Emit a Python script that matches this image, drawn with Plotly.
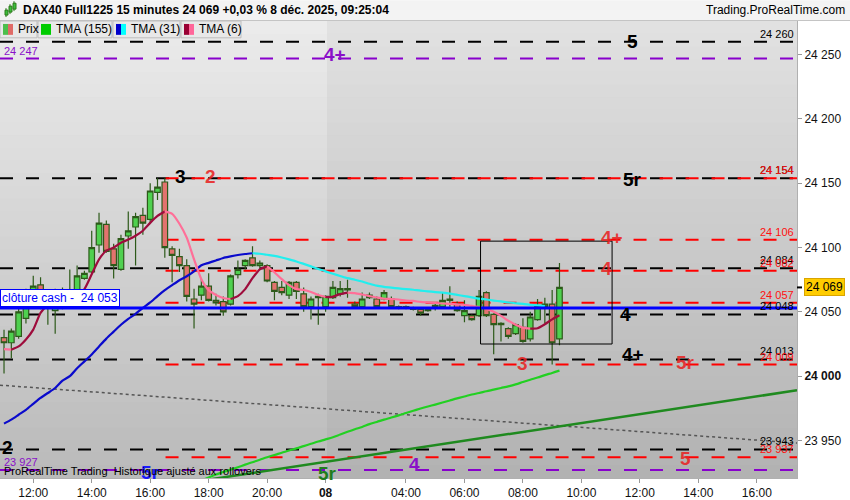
import plotly.graph_objects as go

# ---------------- data ----------------
# 15-minute bars, index 0 = 7 déc 11:00 ... index 76 = 8 déc 09:15
bar_open = [24030, 24026, 24031, 24045, 24056, 24071, 24062, 24051, 24054, 24064,
            24067, 24076, 24081, 24102, 24118, 24099, 24083, 24109, 24116, 24125,
            24122, 24143, 24151, 24099, 24093, 24086, 24060, 24063, 24070, 24059,
            24058, 24056, 24079, 24086, 24092, 24086, 24086, 24073, 24069, 24063,
            24073, 24064, 24054, 24061, 24054, 24061, 24064, 24067, 24056, 24054,
            24061, 24060, 24060, 24060, 24053, 24054, 24053, 24052, 24051, 24053,
            24054, 24060, 24056, 24047, 24047, 24047, 24065, 24048, 24040, 24037,
            24033, 24038, 24029, 24044, 24054, 24056, 24029]
bar_high = [24036, 24037, 24055, 24068, 24078, 24077, 24065, 24068, 24069, 24083,
            24086, 24082, 24113, 24127, 24121, 24103, 24110, 24128, 24127, 24131,
            24150, 24154, 24154, 24101, 24099, 24091, 24068, 24076, 24080, 24064,
            24062, 24079, 24090, 24091, 24101, 24090, 24087, 24074, 24074, 24074,
            24074, 24069, 24062, 24064, 24063, 24074, 24074, 24075, 24058, 24065,
            24065, 24062, 24067, 24062, 24055, 24055, 24054, 24053, 24053, 24057,
            24065, 24070, 24058, 24059, 24048, 24067, 24066, 24049, 24042, 24038,
            24041, 24045, 24050, 24060, 24061, 24067, 24088]
bar_low = [24002, 24014, 24029, 24041, 24053, 24052, 24040, 24033, 24052, 24060,
           24065, 24075, 24080, 24096, 24096, 24076, 24082, 24099, 24086, 24110,
           24119, 24137, 24092, 24073, 24081, 24058, 24037, 24059, 24058, 24055,
           24047, 24055, 24076, 24083, 24085, 24083, 24073, 24059, 24063, 24060,
           24060, 24050, 24044, 24040, 24050, 24060, 24062, 24061, 24053, 24053,
           24060, 24053, 24059, 24053, 24052, 24052, 24051, 24047, 24050, 24051,
           24053, 24054, 24050, 24042, 24043, 24046, 24046, 24017, 24027, 24029,
           24032, 24026, 24027, 24043, 24041, 24009, 24024]
bar_close = [24026, 24035, 24050, 24054, 24070, 24060, 24054, 24054, 24062, 24067,
             24078, 24080, 24100, 24119, 24097, 24086, 24107, 24113, 24124, 24119,
             24144, 24147, 24100, 24094, 24086, 24062, 24056, 24070, 24059, 24057,
             24050, 24078, 24083, 24090, 24086, 24088, 24074, 24066, 24065, 24073,
             24066, 24054, 24060, 24062, 24062, 24069, 24068, 24068, 24054, 24060,
             24063, 24054, 24065, 24054, 24054, 24053, 24052, 24049, 24052, 24055,
             24059, 24059, 24051, 24051, 24044, 24062, 24047, 24040, 24041, 24031,
             24040, 24027, 24046, 24055, 24056, 24026, 24069]

# moving averages
tma6 = [24021.0, 24020.6, 24023.1, 24028.5, 24036.2, 24049.2, 24055.4, 24058.5, 24060.0, 24060.6,
        24062.3, 24067.7, 24079.2, 24090.8, 24097.7, 24100.0, 24103.8, 24106.2, 24109.2, 24113.1,
        24119.2, 24124.6, 24128.1, 24126.2, 24118.5, 24107.7, 24090.8, 24075.4, 24066.9, 24063.1,
        24060.8, 24060.0, 24062.3, 24067.7, 24076.2, 24083.1, 24085.4, 24080.8, 24075.4, 24070.8,
        24067.7, 24067.0, 24065.4, 24063.1, 24061.5, 24061.9, 24063.8, 24065.0, 24064.6, 24063.5,
        24062.3, 24061.2, 24060.2, 24060.0, 24059.6, 24058.8, 24058.5, 24057.7, 24057.3, 24056.9,
        24056.5, 24056.2, 24055.8, 24055.4, 24054.6, 24053.8, 24052.3, 24050.0, 24046.9, 24043.1,
        24040.0, 24037.7, 24036.9, 24037.3, 24040.4, 24044.2, 24047.3]
tma31 = [23963.1, 23966.2, 23970.0, 23973.8, 23978.5, 23983.1, 23986.9, 23990.8, 23996.5, 24000.0,
         24006.2, 24011.5, 24016.9, 24023.1, 24029.2, 24034.6, 24040.0, 24044.6, 24048.5, 24053.1,
         24057.3, 24062.3, 24066.9, 24070.8, 24074.6, 24077.7, 24081.5, 24086.2, 24088.1, 24090.0,
         24091.9, 24093.1, 24094.2, 24095.0, 24095.6, 24095.2, 24094.4, 24093.6, 24092.3, 24090.8,
         24089.2, 24087.3, 24085.4, 24083.3, 24081.5, 24079.6, 24077.9, 24076.2, 24075.0, 24073.6,
         24071.9, 24070.4, 24069.5, 24068.8, 24068.2, 24067.7, 24067.2, 24066.5, 24066.0, 24065.4,
         24064.9, 24064.2, 24063.2, 24062.3, 24061.3, 24060.3, 24059.6, 24058.8, 24058.1, 24057.3,
         24056.7, 24056.2, 24055.5, 24055.0, 24054.5]
tma155_first = 26
tma155 = [23916.5, 23918.9,
          23921.2, 23923.5, 23925.4, 23927.3, 23929.2, 23931.2, 23933.1, 23935.0, 23936.9, 23938.7,
          23940.4, 23942.2, 23943.8, 23945.6, 23947.4, 23949.2, 23950.8, 23952.5, 23954.6, 23956.7,
          23958.7, 23960.5, 23962.7, 23964.4, 23966.2, 23967.8, 23969.5, 23971.3, 23973.1, 23974.8,
          23976.4, 23977.9, 23979.5, 23981.1, 23982.7, 23984.2, 23985.7, 23986.9, 23988.3, 23989.5,
          23990.8, 23992.1, 23993.6, 23995.4, 23997.2, 23998.9, 24000.8, 24002.5, 24004.3]

# time axis
tick_idx = [4, 12, 20, 28, 36, 44, 55, 63, 71, 79, 87, 95, 103]
tick_text = ["12:00", "14:00", "16:00", "18:00", "20:00", "<b>08</b>", "04:00",
             "06:00", "08:00", "10:00", "12:00", "14:00", "16:00"]
x_range = [-0.55, 108.5]
y_range = [23920.8, 24276.2]
y_ticks = [23950, 24000, 24050, 24100, 24150, 24200, 24250]

# horizontal levels
black_levels = [24260, 24154, 24084, 24048, 24013, 23943]
red_levels = [24154, 24106, 24082, 24057, 24009, 23937]
red_levels_from = 22.1
purple_levels = [24247, 23927]
cash_close = 24053
last_price = 24069

# drawn objects
dotted_trend_idx = [-0.55, 108.5]
dotted_trend_val = [23993, 23948]
green_trend_idx = [28.5, 108.5]
green_trend_val = [23920, 23989]
zone_idx = [65.2, 83.2]
zone_val = [24025, 24105]

# level tags: text, bar index, level, colour key, vertical shift
level_tags = [
    ("5", 86.0, 24260, "k", 0), ("4+", 45.3, 24247, "p", 4),
    ("3", 24.1, 24154, "k", 2), ("2", 28.2, 24154, "r", 2),
    ("5r", 86.0, 24154, "k", -1), ("4+", 83.2, 24106, "r", 2),
    ("4", 82.4, 24082, "r", 2), ("4", 85.0, 24048, "k", 0),
    ("4+", 86.0, 24013, "k", 5), ("3", 71.0, 24009, "r", 1),
    ("5r", 93.3, 24009, "r", 2), ("5", 93.3, 23937, "r", -1),
    ("4", 56.2, 23927, "p", 6), ("5r", 44.2, 23927, "g", -3),
    ("5r", 20.0, 23927, "b", -2),
]

# ---------------- figure ----------------
COL = {"k": "#000000", "r": "rgba(232,36,36,0.88)", "p": "#8a10c8",
       "g": "#1f7d1f", "b": "#1a1aff"}
FONT = "Arial, Liberation Sans, sans-serif"
PW, PH, TOP = 797, 462, 21


def fx(p):
    return p / PW


def fy(p):
    return (TOP + PH - p) / PH


def fmt(v):
    return f"{v:,.0f}".replace(",", " ")


fig = go.Figure()
shapes = []
ann = []

# background gradient (two sessions)
nb = 36
for k in range(nb):
    y0 = TOP + k * PH / nb
    y1 = y0 + PH / nb + 0.6
    t = (k + 0.5) / nb
    cl = int(236 - t * 50)
    cr = int(226 - t * 48)
    shapes.append(dict(type="rect", xref="paper", yref="paper", x0=0, x1=fx(327),
                       y0=fy(y1), y1=fy(y0), fillcolor=f"rgb({cl},{cl},{cl})",
                       line=dict(width=0), layer="below"))
    shapes.append(dict(type="rect", xref="paper", yref="paper", x0=fx(327), x1=1,
                       y0=fy(y1), y1=fy(y0), fillcolor=f"rgb({cr},{cr},{cr})",
                       line=dict(width=0), layer="below"))

DASH = "13px,13px"
for lv in black_levels:
    shapes.append(dict(type="line", xref="x", yref="y", x0=x_range[0], x1=x_range[1],
                       y0=lv, y1=lv, line=dict(color="#000000", width=2, dash=DASH),
                       layer="below"))
for lv in red_levels:
    shapes.append(dict(type="line", xref="x", yref="y", x0=red_levels_from, x1=x_range[1],
                       y0=lv, y1=lv, line=dict(color="#ff0000", width=2, dash=DASH),
                       layer="below"))
for lv in purple_levels:
    shapes.append(dict(type="line", xref="x", yref="y", x0=x_range[0], x1=x_range[1],
                       y0=lv, y1=lv, line=dict(color="#8800cc", width=2, dash=DASH),
                       layer="below"))

shapes.append(dict(type="line", xref="x", yref="y", x0=dotted_trend_idx[0], x1=dotted_trend_idx[1],
                   y0=dotted_trend_val[0], y1=dotted_trend_val[1],
                   line=dict(color="#555555", width=1.5, dash="3px,3px"), layer="below"))
shapes.append(dict(type="line", xref="x", yref="y", x0=green_trend_idx[0], x1=green_trend_idx[1],
                   y0=green_trend_val[0], y1=green_trend_val[1],
                   line=dict(color="#1f8a1f", width=2.5), layer="below"))

# candles
fig.add_trace(go.Candlestick(
    x=list(range(len(bar_close))), open=bar_open, high=bar_high, low=bar_low, close=bar_close,
    increasing=dict(fillcolor="#4fd04f", line=dict(color="#2d5a1a", width=1.2)),
    decreasing=dict(fillcolor="#e2736e", line=dict(color="#2d5a1a", width=1.2)),
    whiskerwidth=0, showlegend=False, hoverinfo="skip"))


def slope_lines(xs, ys, up, down, width):
    sx, sy = [xs[0]], [ys[0]]
    cur = None
    for i in range(1, len(xs)):
        d = ys[i] >= ys[i - 1]
        if cur is None:
            cur = d
        if d != cur:
            fig.add_trace(go.Scatter(x=sx, y=sy, mode="lines",
                                     line=dict(color=up if cur else down, width=width, shape="spline", smoothing=0.6),
                                     hoverinfo="skip", showlegend=False))
            sx, sy = [xs[i - 1]], [ys[i - 1]]
            cur = d
        sx.append(xs[i])
        sy.append(ys[i])
    fig.add_trace(go.Scatter(x=sx, y=sy, mode="lines",
                             line=dict(color=up if cur else down, width=width, shape="spline", smoothing=0.6),
                             hoverinfo="skip", showlegend=False))


fig.add_trace(go.Scatter(x=list(range(tma155_first, tma155_first + len(tma155))), y=tma155,
                         mode="lines", line=dict(color="#22d022", width=2.2, shape="spline"),
                         hoverinfo="skip", showlegend=False))
slope_lines(list(range(len(tma31))), tma31, "#0a0acc", "#22eeee", 2.2)
slope_lines(list(range(len(tma6))), tma6, "#9e0c3c", "#ff6f98", 2.2)

# close cash line and zone box
shapes.append(dict(type="line", xref="x", yref="y", x0=x_range[0], x1=x_range[1],
                   y0=cash_close, y1=cash_close, line=dict(color="#0000ff", width=3), layer="above"))
shapes.append(dict(type="rect", xref="x", yref="y", x0=zone_idx[0], x1=zone_idx[1],
                   y0=zone_val[0], y1=zone_val[1], line=dict(color="#000000", width=1),
                   fillcolor="rgba(0,0,0,0)", layer="above"))

# right side level values
for lv in black_levels:
    ann.append(dict(xref="paper", yref="y", x=fx(796), y=lv, xanchor="right", yanchor="bottom",
                    yshift=0, text=fmt(lv), showarrow=False, font=dict(size=11, color="#000", family=FONT)))
for lv in red_levels:
    ann.append(dict(xref="paper", yref="y", x=fx(796), y=lv, xanchor="right", yanchor="bottom",
                    yshift=0, text=fmt(lv), showarrow=False, font=dict(size=11, color="#ff1010", family=FONT)))
for lv in purple_levels:
    ann.append(dict(xref="paper", yref="y", x=fx(2), y=lv, xanchor="left", yanchor="bottom",
                    yshift=0, text=fmt(lv), showarrow=False, font=dict(size=11, color="#8a10c8", family=FONT)))

for txt, xi, lv, ck, ys in level_tags:
    ann.append(dict(xref="x", yref="y", x=xi, y=lv, yshift=ys, text=f"<b>{txt}</b>",
                    showarrow=False, font=dict(size=19, color=COL[ck], family=FONT)))
ann.append(dict(xref="paper", yref="y", x=0, y=black_levels[-1], xanchor="left", yshift=2,
                text="<b>2</b>", showarrow=False, font=dict(size=19, color="#000", family=FONT)))

# close cash tag
ann.append(dict(xref="paper", yref="y", x=0, y=cash_close, xanchor="left", yanchor="bottom", yshift=1,
                text="clôture cash -\u00a0 " + fmt(cash_close), showarrow=False, bgcolor="white",
                bordercolor="#0000ff", borderwidth=1, borderpad=1,
                font=dict(size=12, color="#0000ff", family=FONT)))

# last price tag
shapes.append(dict(type="line", xref="paper", yref="y", x0=1, x1=fx(802), y0=last_price, y1=last_price,
                   line=dict(color="#000", width=2)))
ann.append(dict(xref="paper", yref="y", x=fx(804), y=last_price, xanchor="left", text=fmt(last_price),
                showarrow=False, bgcolor="#ffcc00", bordercolor="#d9a400", borderwidth=1, borderpad=1,
                font=dict(size=12, color="#000", family=FONT)))

# header bar
shapes.append(dict(type="rect", xref="paper", yref="paper", x0=0, x1=fx(850), y0=fy(20), y1=fy(0),
                   fillcolor="#f3f3f3", line=dict(width=0)))
shapes.append(dict(type="line", xref="paper", yref="paper", x0=0, x1=fx(850), y0=fy(20.5), y1=fy(20.5),
                   line=dict(color="#c4c4c4", width=1)))
for (a, b, c, d) in [(5, 7, 10, 15), (9, 11, 6, 12), (13, 15, 3, 9)]:
    shapes.append(dict(type="line", xref="paper", yref="paper", x0=fx((a + b) / 2), x1=fx((a + b) / 2),
                       y0=fy(d + 2), y1=fy(c - 2), line=dict(color="#2d7a1a", width=1)))
    shapes.append(dict(type="rect", xref="paper", yref="paper", x0=fx(a), x1=fx(b + 1), y0=fy(d), y1=fy(c),
                       fillcolor="#3cc03c", line=dict(color="#2d7a1a", width=1)))
ann.append(dict(xref="paper", yref="paper", x=fx(21), y=fy(10), xanchor="left", yanchor="middle",
                text="<b>DAX40 Full1225 15 minutes 24 069 +0,03 % 8 déc. 2025, 09:25:04</b>",
                showarrow=False, font=dict(size=12, color="#000", family=FONT)))
ann.append(dict(xref="paper", yref="paper", x=fx(847), y=fy(10), xanchor="right", yanchor="middle",
                text="Trading.ProRealTime.com", showarrow=False, font=dict(size=12, color="#000", family=FONT)))

# legend boxes
legend_items = [("Prix", 0, 37, ["#4cbf4c", "#e06a66"]),
                ("TMA (155)", 38, 112, ["#00cc00", "#00cc00"]),
                ("TMA (31)", 113, 180, ["#0000cc", "#00ffff"]),
                ("TMA (6)", 181, 241, ["#990033", "#ff6699"])]
for name, a, b, cols in legend_items:
    shapes.append(dict(type="rect", xref="paper", yref="paper", x0=fx(a), x1=fx(b), y0=fy(38), y1=fy(21),
                       fillcolor="#e8e8e8", line=dict(color="#bdbdbd", width=1)))
    shapes.append(dict(type="rect", xref="paper", yref="paper", x0=fx(a + 3), x1=fx(a + 8), y0=fy(35), y1=fy(24),
                       fillcolor=cols[0], line=dict(width=0)))
    shapes.append(dict(type="rect", xref="paper", yref="paper", x0=fx(a + 8), x1=fx(a + 13), y0=fy(35), y1=fy(24),
                       fillcolor=cols[1], line=dict(width=0)))
    ann.append(dict(xref="paper", yref="paper", x=fx(a + 16), y=fy(29.5), xanchor="left", yanchor="middle",
                    text=name, showarrow=False, font=dict(size=12, color="#000", family=FONT)))

ann.append(dict(xref="paper", yref="paper", x=fx(2), y=fy(476), xanchor="left", yanchor="middle",
                text="ProRealTime Trading  Historique ajusté aux rollovers", showarrow=False,
                font=dict(size=11, color="#000", family=FONT)))

ytext = [("<b>" + fmt(v) + "</b>") if v == 24000 else fmt(v) for v in y_ticks]

fig.update_layout(
    width=850, height=500, margin=dict(l=0, r=53, t=21, b=17),
    paper_bgcolor="white", plot_bgcolor="#d0d0d0", showlegend=False,
    boxgap=0.2, boxgroupgap=0.05,
    font=dict(family=FONT, size=12, color="#000"),
    shapes=shapes, annotations=ann,
    xaxis=dict(range=x_range, tickvals=tick_idx, ticktext=tick_text, ticks="outside", ticklen=4,
               tickcolor="#999", showgrid=False, zeroline=False, showline=True, linecolor="#b0b0b0",
               tickfont=dict(size=12, color="#111"), rangeslider=dict(visible=False)),
    yaxis=dict(range=y_range, side="right", tickvals=y_ticks, ticktext=ytext, ticks="outside",
               ticklen=4, tickcolor="#999", showgrid=False, zeroline=False, showline=True,
               linecolor="#b0b0b0", tickfont=dict(size=12, color="#111")),
)

fig.write_html("out.html", config={"displayModeBar": False},
               post_script="document.body.style.margin='0px';document.body.style.padding='0px';")
